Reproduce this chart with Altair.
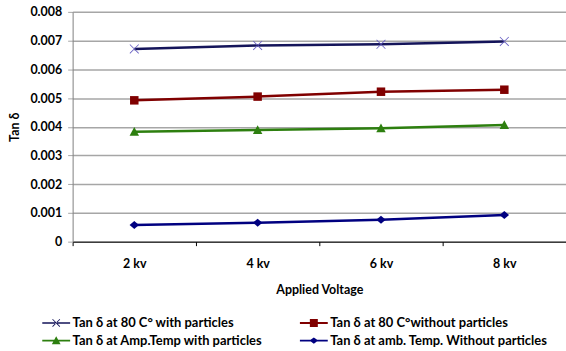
import altair as alt
import pandas as pd

# Applied voltage categories and measured dissipation factor (tan delta)
voltages = ["2 kv", "4 kv", "6 kv", "8 kv"]
series_names = [
    "Tan δ at 80 C°  with particles",
    "Tan δ at 80 C°without particles",
    "Tan δ at Amp.Temp with particles",
    "Tan δ at amb. Temp. Without particles",
]
hot_with = [0.00671, 0.00683, 0.00687, 0.00697]
hot_without = [0.00492, 0.00505, 0.00522, 0.00529]
amb_with = [0.00383, 0.00389, 0.00395, 0.00406]
amb_without = [0.00058, 0.00066, 0.00076, 0.00093]

line_colors = ["#14145a", "#800000", "#2d7f0f", "#000080"]
marker_colors = ["#6a62c4", "#800000", "#2d7f0f", "#000080"]

# marker shapes (unit box -1..1)
cross = "M-1,-0.88L-0.88,-1L1,0.88L0.88,1Z M-1,0.88L-0.88,1L1,-0.88L0.88,-1Z"
square = "M-0.9,-0.9H0.9V0.9H-0.9Z"
triangle = "M-1,0.85L0,-1L1,0.85Z"
diamond = "M-1,0L0,-0.85L1,0L0,0.85Z"
markers = [cross, square, triangle, diamond]

# legend symbols: a short line segment with a marker on it
l_cross = "M-1,-0.85L-0.85,-1L1,0.85L0.85,1Z M-1,0.85L-0.85,1L1,-0.85L0.85,-1Z"
l_square = "M-1,-1H1V1H-1Z"
l_triangle = "M-1.1,0.9L0,-1.1L1.1,0.9Z"
l_diamond = "M-1.1,0L0,-0.8L1.1,0L0,0.8Z"
stub = "M-3.5,-0.25H3.5V0.25H-3.5Z "
legend_symbols = [
    "M-3.5,-0.2H3.5V0.2H-3.5Z " + l_cross,
    stub + l_square,
    stub + l_triangle,
    stub + l_diamond,
]

rows = []
for name, vals in zip(series_names, [hot_with, hot_without, amb_with, amb_without]):
    for v, t in zip(voltages, vals):
        rows.append({"voltage": v, "tan": t, "series": name})
df = pd.DataFrame(rows)

# legend grid is filled column by column: put entries in that order
legend_order = [0, 2, 1, 3]
legend_domain = [series_names[i] for i in legend_order]
legend_colors = [line_colors[i] for i in legend_order]
legend_shapes = [legend_symbols[i] for i in legend_order]

FONT = "Lato"

x_enc = alt.X(
    "voltage:N",
    sort=voltages,
    scale=alt.Scale(type="band", domain=voltages, paddingInner=0, paddingOuter=0),
    axis=alt.Axis(
        title="Applied Voltage",
        labelAngle=0,
        tickBand="extent",
        grid=False,
        domainColor="#000000",
        tickColor="#000000",
        tickSize=4,
        labelFontSize=12.5,
        labelPadding=12,
        titlePadding=14,
    ),
)
y_enc = alt.Y(
    "tan:Q",
    scale=alt.Scale(domain=[0, 0.008]),
    axis=alt.Axis(
        title="Tan δ",
        values=[0, 0.001, 0.002, 0.003, 0.004, 0.005, 0.006, 0.007, 0.008],
        labelExpr="datum.value == 0 ? '0' : format(datum.value, '.3f')",
        gridColor="#a6a6a6",
        gridWidth=1.5,
        tickColor="#a6a6a6",
        tickSize=5,
        domainColor="#808080",
        labelFontSize=12.5,
        labelPadding=6,
        titlePadding=8,
    ),
)

lines = alt.Chart(df).mark_line(strokeWidth=2.5).encode(
    x=x_enc,
    y=y_enc,
    color=alt.Color(
        "series:N",
        scale=alt.Scale(domain=series_names, range=line_colors),
        legend=None,
    ),
)

points = alt.Chart(df).mark_point(filled=True, opacity=1, size=90).encode(
    x=x_enc,
    y=y_enc,
    color=alt.Color(
        "series:N",
        scale=alt.Scale(domain=series_names, range=marker_colors),
        legend=None,
    ),
    shape=alt.Shape(
        "series:N",
        scale=alt.Scale(domain=series_names, range=markers),
        legend=None,
    ),
)

legend_layer = (
    alt.Chart(df)
    .transform_filter("false")
    .mark_point(filled=True, opacity=1, size=64)
    .encode(
        x=x_enc,
        y=y_enc,
        color=alt.Color(
            "series:N",
            scale=alt.Scale(domain=legend_domain, range=legend_colors),
            legend=alt.Legend(
                title=None,
                orient="none",
                legendX=-23,
                legendY=306,
                columns=2,
                columnPadding=37,
                rowPadding=4,
                symbolSize=64,
                labelOffset=10,
                labelFontSize=13,
                labelFontWeight="bold",
                labelFont=FONT,
                labelColor="#000000",
                labelLimit=400,
            ),
        ),
        shape=alt.Shape(
            "series:N",
            scale=alt.Scale(domain=legend_domain, range=legend_shapes),
        ),
    )
)

chart = (
    alt.layer(lines, points, legend_layer)
    .resolve_scale(color="independent", shape="independent")
    .properties(
        width=496,
        height=231,
        padding={"left": 73, "top": 11, "right": 0, "bottom": 109},
        autosize=alt.AutoSizeParams(type="none"),
        background="#ffffff",
    )
    .configure_view(stroke=None)
    .configure_axis(
        labelFont=FONT,
        titleFont=FONT,
        labelFontWeight="bold",
        titleFontSize=12.5,
        titleFontWeight="bold",
        labelColor="#000000",
        titleColor="#000000",
    )
)

chart.save("out.html", embed_options={"renderer": "svg", "actions": False})
